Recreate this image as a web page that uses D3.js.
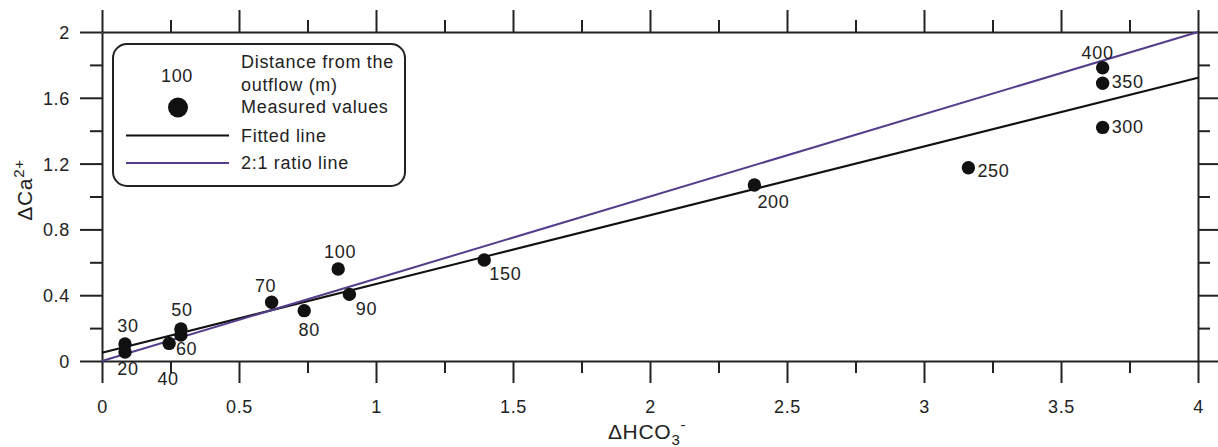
<!doctype html>
<html>
<head>
<meta charset="utf-8">
<title>ΔCa2+ vs ΔHCO3-</title>
<script src="https://d3js.org/d3.v7.min.js"></script>
<style type="text/css">
	body { margin: 0; background: #fff; }
	text { font-family: "Liberation Sans", Arial, sans-serif; fill: #222; letter-spacing: 0.7px; }
	.axis path, .axis line { stroke: #222; stroke-width: 2; }
	.axis text.tick-label { font-size: 18px; font-family: "Liberation Sans", Arial, sans-serif; fill: #222; }
	.pt-label { font-size: 18px; }
	.legend text { font-size: 18px; }
	.atitle { font-size: 21px; }
</style>
</head>
<body>
<script>
	// distance from the outflow (m)
	var distances = [20, 30, 40, 50, 60, 70, 80, 90, 100, 150, 200, 250, 300, 350, 400];
	var dHCO3 = [0.084, 0.084, 0.245, 0.288, 0.288, 0.619, 0.738, 0.903, 0.862, 1.395, 2.381, 3.162, 3.652, 3.652, 3.652];
	var dCa = [0.055, 0.103, 0.107, 0.195, 0.158, 0.357, 0.306, 0.405, 0.559, 0.614, 1.07, 1.175, 1.42, 1.688, 1.783];

	var fitIntercept = 0.05, fitSlope = 0.418;
	var ratioSlope = 0.5;

	var xTicks = [0, 0.5, 1, 1.5, 2, 2.5, 3, 3.5, 4];
	var xMinor = [0.25, 0.75, 1.25, 1.75, 2.25, 2.75, 3.25, 3.75];
	var yTicks = [0, 0.4, 0.8, 1.2, 1.6, 2];
	var yMinor = [0.2, 0.6, 1.0, 1.4, 1.8];

	var w = 1218, h = 447;
	var pLeft = 102, pRight = 1198, pTop = 32, pBottom = 361;

	var svg = d3.select("body").append("svg")
		.attr("width", w).attr("height", h);

	var x = d3.scaleLinear().domain([0, 4]).range([pLeft, pRight]);
	var y = d3.scaleLinear().domain([0, 2]).range([pBottom, pTop]);

	// label placement relative to each dot: [dx, dy, anchor]
	var labelPos = {
		20: [3, 23, "middle"], 30: [3, -12, "middle"], 40: [-1, 42, "middle"],
		50: [1, -13, "middle"], 60: [-5, 20, "start"], 70: [-6, -10, "middle"],
		80: [5, 25, "middle"], 90: [17, 21, "middle"], 100: [2, -11, "middle"],
		150: [5, 20, "start"], 200: [3, 23, "start"], 250: [9, 9, "start"],
		300: [9, 6, "start"], 350: [9, 5, "start"], 400: [-5, -9, "middle"]
	};

	function drawAxis(axisFn, scale, major, minor, transform, labels) {
		var g = svg.append("g").attr("class", "axis").attr("transform", transform);
		g.call(axisFn(scale).tickValues(minor).tickSize(12).tickSizeOuter(0).tickFormat(""));
		g.select(".domain").remove();
		var g2 = svg.append("g").attr("class", "axis").attr("transform", transform);
		g2.call(axisFn(scale).tickValues(major).tickSize(22).tickSizeOuter(0)
			.tickFormat(labels ? d3.format("") : ""));
		g2.selectAll("text").attr("class", "tick-label");
		return g2;
	}

	var gx = drawAxis(d3.axisBottom, x, xTicks, xMinor, "translate(0," + pBottom + ")", true);
	gx.selectAll("text").attr("y", 52).attr("dy", 0);
	var gy = drawAxis(d3.axisLeft, y, yTicks, yMinor, "translate(" + pLeft + ",0)", true);
	gy.selectAll("text").attr("x", -32).attr("dy", "0.36em");
	drawAxis(d3.axisTop, x, xTicks, xMinor, "translate(0," + pTop + ")", false);
	drawAxis(d3.axisRight, y, yTicks, yMinor, "translate(" + pRight + ",0)", false);

	// lines
	var line = d3.line().x(function(d) { return x(d[0]); }).y(function(d) { return y(d[1]); });
	svg.append("path")
		.attr("d", line([[0, fitIntercept], [4, fitIntercept + fitSlope * 4]]))
		.attr("stroke", "#111").attr("stroke-width", 2).attr("fill", "none");
	svg.append("path")
		.attr("d", line([[0, 0], [4, ratioSlope * 4]]))
		.attr("stroke", "#553d8c").attr("stroke-width", 2).attr("fill", "none");

	// points
	var pts = distances.map(function(d, i) { return { dist: d, x: dHCO3[i], y: dCa[i] }; });
	svg.append("g").selectAll("circle")
		.data(pts).enter().append("circle")
		.attr("cx", function(d) { return x(d.x); })
		.attr("cy", function(d) { return y(d.y); })
		.attr("r", 6.7)
		.attr("fill", "#111");

	svg.append("g").selectAll("text")
		.data(pts).enter().append("text")
		.attr("class", "pt-label")
		.attr("x", function(d) { return x(d.x) + labelPos[d.dist][0]; })
		.attr("y", function(d) { return y(d.y) + labelPos[d.dist][1]; })
		.attr("text-anchor", function(d) { return labelPos[d.dist][2]; })
		.text(function(d) { return d.dist; });

	// legend
	var lg = svg.append("g").attr("class", "legend");
	lg.append("rect")
		.attr("x", 113).attr("y", 44).attr("width", 292).attr("height", 142)
		.attr("rx", 14).attr("ry", 14)
		.attr("fill", "#fff").attr("stroke", "#222").attr("stroke-width", 2);
	lg.append("text").attr("x", 177).attr("y", 82).attr("text-anchor", "middle").text("100");
	lg.append("circle").attr("cx", 178).attr("cy", 107.5).attr("r", 10).attr("fill", "#111");
	lg.append("text").attr("x", 241).attr("y", 68).text("Distance from the");
	lg.append("text").attr("x", 241).attr("y", 91).text("outflow (m)");
	lg.append("text").attr("x", 241).attr("y", 113).text("Measured values");
	lg.append("line").attr("x1", 126).attr("x2", 229).attr("y1", 135.5).attr("y2", 135.5)
		.attr("stroke", "#111").attr("stroke-width", 2);
	lg.append("text").attr("x", 241).attr("y", 141.5).text("Fitted line");
	lg.append("line").attr("x1", 126).attr("x2", 229).attr("y1", 163).attr("y2", 163)
		.attr("stroke", "#553d8c").attr("stroke-width", 2);
	lg.append("text").attr("x", 241).attr("y", 169).text("2:1 ratio line");

	// axis titles
	var xt = svg.append("text").attr("class", "atitle")
		.attr("x", 647).attr("y", 439).attr("text-anchor", "middle");
	xt.append("tspan").text("ΔHCO");
	xt.append("tspan").attr("dy", 6).style("font-size", "15px").text("3");
	xt.append("tspan").attr("dy", -15).style("font-size", "15px").text("-");

	var yt = svg.append("text").attr("class", "atitle")
		.attr("transform", "translate(32,190) rotate(-90)")
		.attr("text-anchor", "middle");
	yt.append("tspan").text("ΔCa");
	yt.append("tspan").attr("dy", -8).style("font-size", "15px").text("2+");
</script>
</body>
</html>
